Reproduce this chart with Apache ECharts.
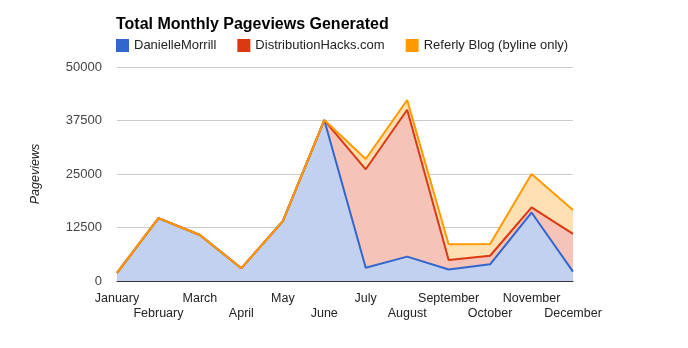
<!DOCTYPE html>
<html><head><meta charset="utf-8">
<script src="https://cdn.jsdelivr.net/npm/echarts@6/dist/echarts.min.js"></script>
<style>html,body{margin:0;padding:0;background:#fff}#c{width:688px;height:348px}</style>
</head><body><div id="c"></div>
<script>
var months = ['January','February','March','April','May','June','July','August','September','October','November','December'];
var danielle = [1900,14700,10750,3000,14000,37600,3100,5700,2700,3900,16000,2200];
var distHacks = [0,0,0,0,0,0,23000,34300,2200,2000,1200,8800];
var referly = [0,0,0,0,0,0,2400,2300,3700,2750,7800,5600];
var yTicks = [0,12500,25000,37500,50000];

var font = 'Liberation Sans, Arial, sans-serif';
function mk(name, data, color, fill){
  return {name:name,type:'line',stack:'total',data:data,symbol:'none',
    lineStyle:{color:color,width:2},itemStyle:{color:color},
    areaStyle:{color:fill,opacity:1},z:2};
}
var chart = echarts.init(document.getElementById('c'));
chart.setOption({
  animation:false,
  title:{text:'Total Monthly Pageviews Generated',left:111,top:12,
    textStyle:{fontFamily:font,fontSize:16,fontWeight:'bold',color:'#000'}},
  legend:{left:116,top:39,padding:0,icon:'rect',itemWidth:13,itemHeight:13,itemGap:21,
    textStyle:{fontFamily:font,fontSize:13,color:'#222'},
    data:['DanielleMorrill','DistributionHacks.com','Referly Blog (byline only)']},
  grid:{left:117,right:115,top:67,bottom:67},
  xAxis:{type:'category',data:months,boundaryGap:false,
    axisLine:{lineStyle:{color:'#333',width:1}},axisTick:{show:false},
    axisLabel:{interval:0,fontFamily:font,fontSize:12.5,color:'#222',margin:10,lineHeight:15,
      formatter:function(v,i){return i%2===1?'\n'+v:v;}},
    splitLine:{show:false}},
  yAxis:{type:'value',min:yTicks[0],max:yTicks[yTicks.length-1],interval:12500,
    name:'Pageviews',nameLocation:'middle',nameGap:75,nameRotate:90,
    nameTextStyle:{fontFamily:font,fontSize:12.5,fontStyle:'italic',color:'#222'},
    axisLine:{show:false},axisTick:{show:false},
    axisLabel:{fontFamily:font,fontSize:13,color:'#444',margin:15,formatter:function(v){return String(v);}},
    splitLine:{lineStyle:{color:'#ccc',width:1}}},
  series:[
    mk('DanielleMorrill',danielle,'#3366cc','#c2d1f0'),
    mk('DistributionHacks.com',distHacks,'#dc3912','#f5c3b8'),
    mk('Referly Blog (byline only)',referly,'#ff9900','#ffe0b3')
  ]
});
</script></body></html>
